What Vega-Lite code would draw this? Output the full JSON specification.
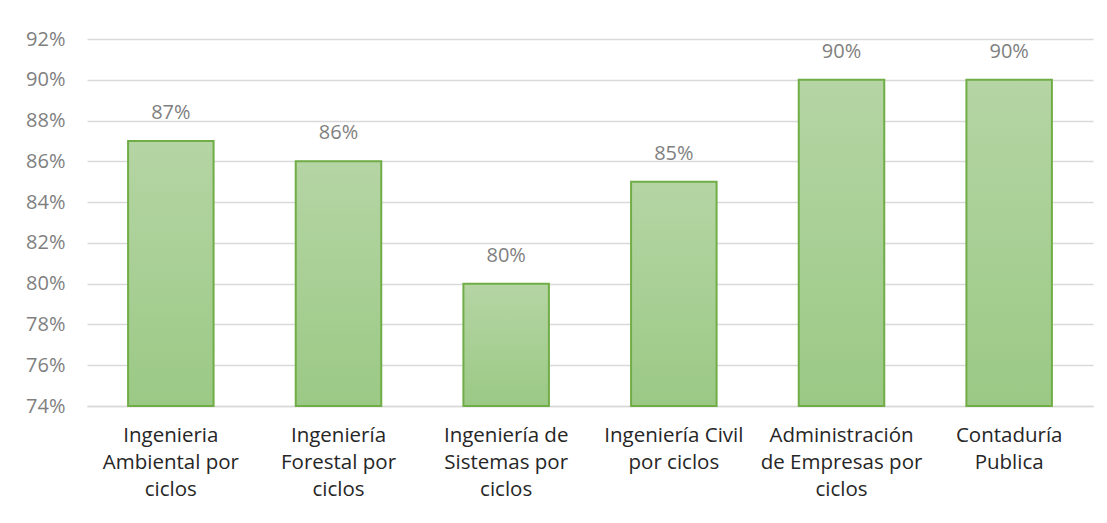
{
  "$schema": "https://vega.github.io/schema/vega-lite/v6.json",
  "width": 1006,
  "height": 367,
  "autosize": {"type": "none"},
  "padding": {"left": 87, "top": 39, "right": 14, "bottom": 117},
  "background": "white",
  "config": {
    "view": {"stroke": null},
    "font": "Open Sans"
  },
  "data": {
    "values": [
      {"programa": "Ingenieria|Ambiental por|ciclos", "valor": 0.87},
      {"programa": "Ingeniería|Forestal por|ciclos", "valor": 0.86},
      {"programa": "Ingeniería de|Sistemas por|ciclos", "valor": 0.80},
      {"programa": "Ingeniería Civil|por ciclos", "valor": 0.85},
      {"programa": "Administración|de Empresas por|ciclos", "valor": 0.90},
      {"programa": "Contaduría|Publica", "valor": 0.90}
    ]
  },
  "encoding": {
    "x": {
      "field": "programa",
      "type": "nominal",
      "sort": null,
      "scale": {"paddingInner": 0.49, "paddingOuter": 0.245},
      "axis": {
        "title": null,
        "labelAngle": 0,
        "labelExpr": "split(datum.label, '|')",
        "labelFontSize": 20.5,
        "labelColor": "#262626",
        "labelLineHeight": 27,
        "labelPadding": 19,
        "labelLimit": 220,
        "ticks": false,
        "domainColor": "#d9d9d9",
        "domainWidth": 1.5,
        "grid": false
      }
    },
    "y": {
      "field": "valor",
      "type": "quantitative",
      "scale": {"domain": [0.74, 0.92], "nice": false, "zero": false},
      "axis": {
        "title": null,
        "values": [0.74, 0.76, 0.78, 0.80, 0.82, 0.84, 0.86, 0.88, 0.90, 0.92],
        "format": ".0%",
        "labelFontSize": 20,
        "labelColor": "#7f7f7f",
        "labelPadding": 22,
        "ticks": false,
        "domain": false,
        "gridColor": "#d9d9d9",
        "gridWidth": 1.5
      }
    }
  },
  "layer": [
    {
      "mark": {
        "type": "bar",
        "stroke": "#70ad47",
        "strokeWidth": 2,
        "fill": {
          "gradient": "linear",
          "x1": 0, "y1": 0, "x2": 0, "y2": 1,
          "stops": [
            {"offset": 0, "color": "#b5d5a4"},
            {"offset": 1, "color": "#9bc985"}
          ]
        }
      },
      "encoding": {"y2": {"datum": 0.74}}
    },
    {
      "mark": {"type": "text", "dy": -18, "baseline": "bottom", "fontSize": 20, "color": "#7f7f7f"},
      "encoding": {
        "text": {"field": "valor", "type": "quantitative", "format": ".0%"}
      }
    }
  ]
}
